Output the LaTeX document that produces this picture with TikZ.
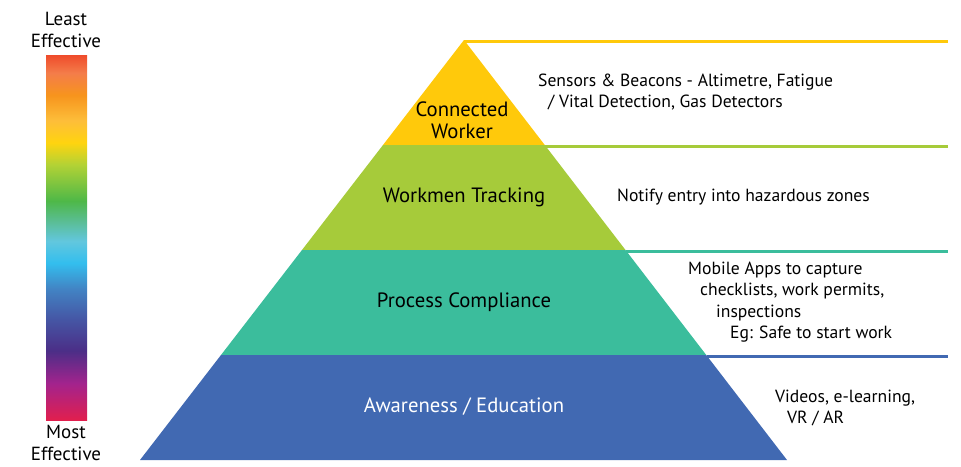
\documentclass[tikz,border=0pt]{standalone}
\usepackage{fontspec}
\setmainfont{PT Sans}
\definecolor{cwyellow}{HTML}{FFC90B}
\definecolor{wtgreen}{HTML}{A6CB3A}
\definecolor{pcteal}{HTML}{3BBD9C}
\definecolor{aeblue}{HTML}{4169B2}
% rainbow stops, bottom to top
\definecolor{rb0}{HTML}{E11F4E}
\definecolor{rb1}{HTML}{A3238D}
\definecolor{rb2}{HTML}{4B2E87}
\definecolor{rb3}{HTML}{4558A6}
\definecolor{rb4}{HTML}{4284C4}
\definecolor{rb5}{HTML}{33BEEE}
\definecolor{rb6}{HTML}{62C7DE}
\definecolor{rb7}{HTML}{5BBE9A}
\definecolor{rb8}{HTML}{4EB848}
\definecolor{rb9}{HTML}{B3D235}
\definecolor{rb10}{HTML}{FFD40F}
\definecolor{rb11}{HTML}{FDBE3A}
\definecolor{rb12}{HTML}{F7941D}
\definecolor{rb13}{HTML}{F47D4A}
\definecolor{rb14}{HTML}{EF4B2B}
\pgfdeclareverticalshading{effective}{100bp}{color(0bp)=(rb0); color(25bp)=(rb0);
  color(30bp)=(rb1); color(34.5bp)=(rb2); color(39bp)=(rb3); color(43bp)=(rb4);
  color(46.5bp)=(rb5); color(49.5bp)=(rb6); color(52bp)=(rb7); color(55bp)=(rb8);
  color(60bp)=(rb9); color(63bp)=(rb10); color(66bp)=(rb11); color(69.5bp)=(rb12);
  color(72.5bp)=(rb13); color(75bp)=(rb14); color(100bp)=(rb14)}
\tikzset{
  level/.style={font=\fontsize{20.7}{22}\selectfont,align=center},
  note/.style={font=\fontsize{17.6}{21.5}\selectfont,align=left,anchor=west,inner sep=0pt},
  scale label/.style={font=\fontsize{19}{22}\selectfont,align=center,inner sep=0pt},
  rule/.style={line width=3pt}
}
\begin{document}
\begin{tikzpicture}[x=1pt,y=-1pt]
  \useasboundingbox (0,0) rectangle (961,466);
  % scale bar
  \shade[shading=effective] (46,55) rectangle (87,420);
  \node[scale label] (least) at (66,30) {Least\\Effective};
  \node[scale label] (most) at (66,443) {Most\\Effective};
  % pyramid
  \coordinate (apex) at (464,40);
  \coordinate (bl) at (140,460);
  \coordinate (br) at (787,460);
  \coordinate (rim) at (948,0);
  \path[save path=\pyramid] (apex) -- (bl) -- (br) -- cycle;
  \begin{scope}
    \clip[use path=\pyramid];
    \fill[cwyellow] (100,30) rectangle (830,145);
    \fill[wtgreen] (100,145) rectangle (830,250);
    \fill[pcteal] (100,250) rectangle (830,355);
    \fill[aeblue] (100,355) rectangle (830,461);
  \end{scope}
  \coordinate (e1) at (545,146.5);
  \coordinate (e2) at (626,251.5);
  \coordinate (e3) at (707,356.5);
  \draw[rule,cwyellow] (464,41.5) -- (464,41.5 -| rim);
  \draw[rule,wtgreen] (e1) -- (e1 -| rim);
  \draw[rule,pcteal] (e2) -- (e2 -| rim);
  \draw[rule,aeblue] (e3) -- (e3 -| rim);
  % labels
  \node[level] (cw) at (462,120) {Connected\\Worker};
  \node[level] (wt) at (464,197) {Workmen Tracking};
  \node[level] (pc) at (464,302) {Process Compliance};
  \node[level,white] (ae) at (464,407) {Awareness / Education};
  \node[note] (cwnote) at (538,92) {Sensors \& Beacons - Altimetre, Fatigue\\\hspace*{10pt}/ Vital Detection, Gas Detectors};
  \node[note] (wtnote) at (617,197) {Notify entry into hazardous zones};
  \node[note] (pcnote) at (688,302) {Mobile Apps to capture\\\hspace*{12pt}checklists, work permits,\\\hspace*{28pt}inspections\\\hspace*{42pt}Eg: Safe to start work};
  \node[note] (aenote) at (775,408) {Videos, e-learning,\\\hspace*{12pt}VR / AR};
\end{tikzpicture}
\end{document}
